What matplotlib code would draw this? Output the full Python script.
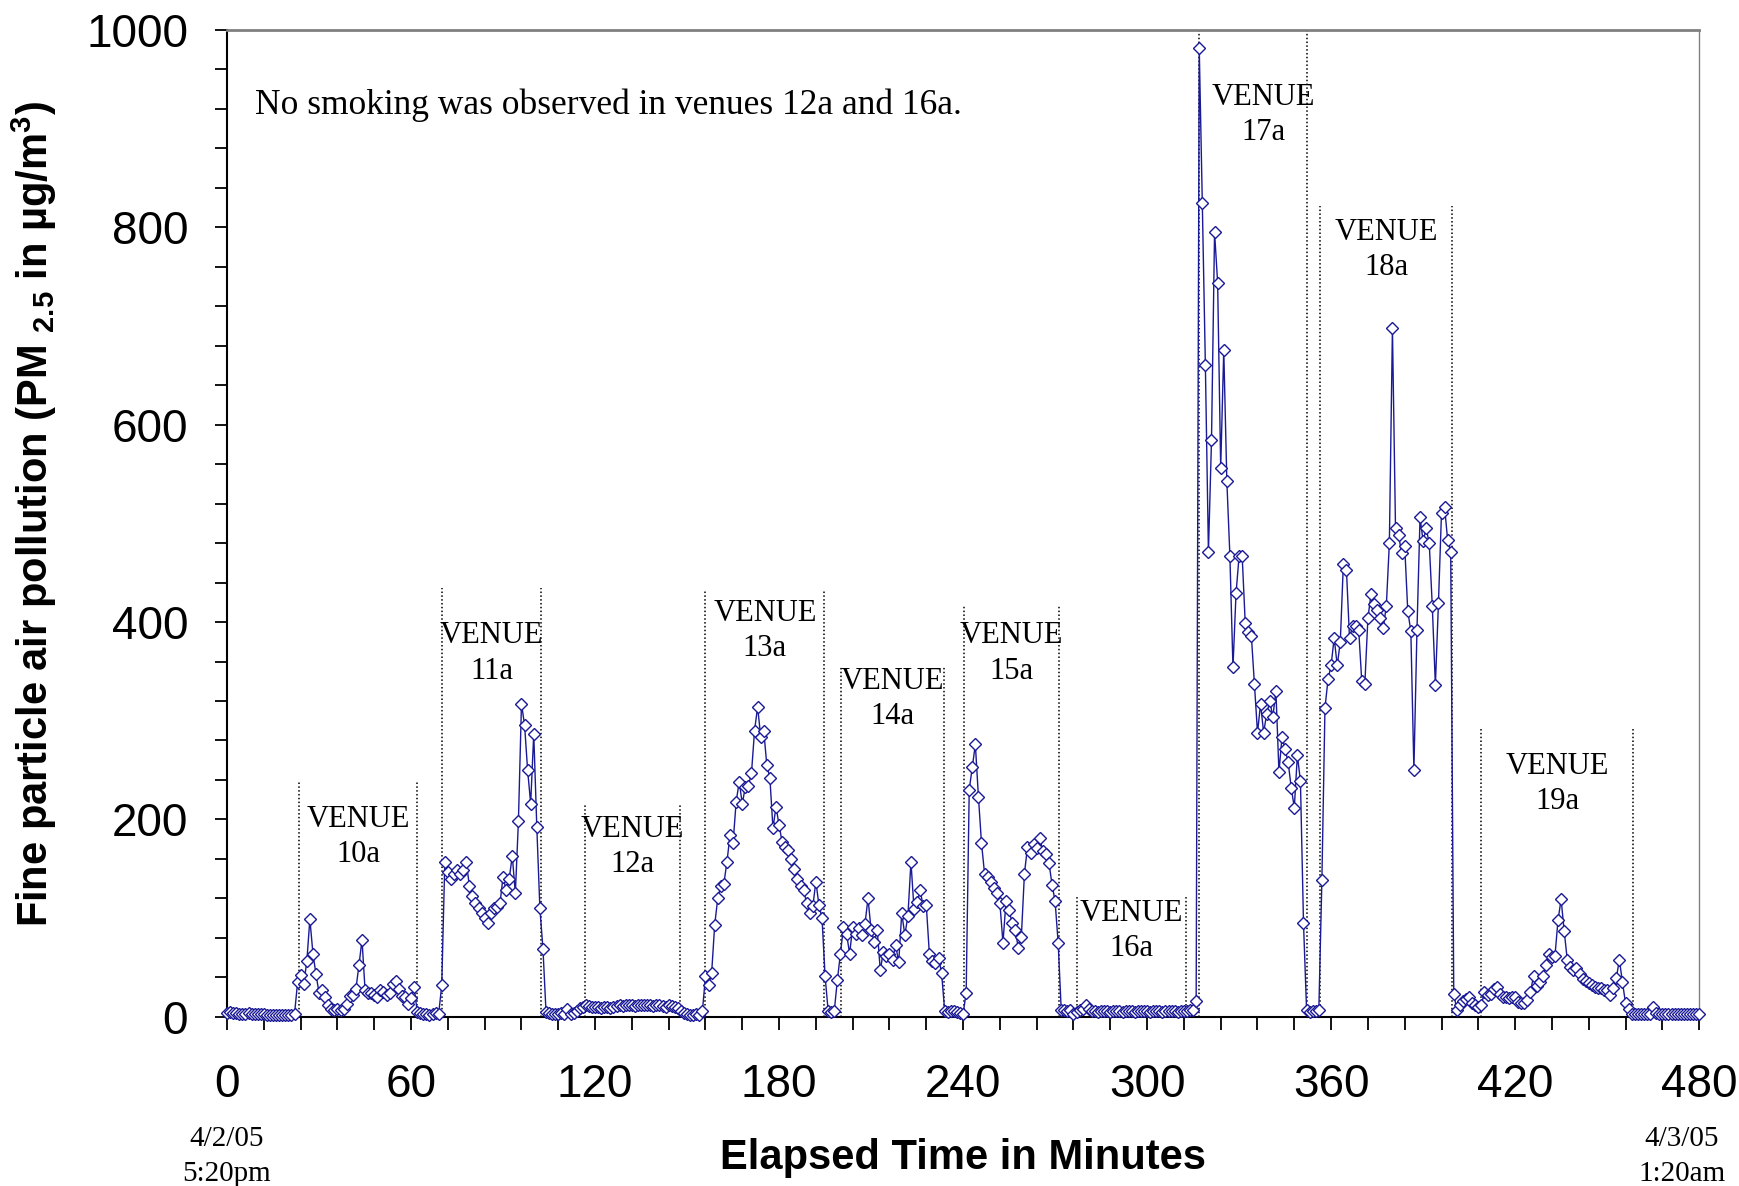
import numpy as np
import matplotlib.pyplot as plt
from matplotlib.ticker import MultipleLocator

plt.rcParams['font.family'] = ['Liberation Sans', 'DejaVu Sans']
plt.rcParams['mathtext.fontset'] = 'custom'
plt.rcParams['mathtext.rm'] = 'Liberation Sans:bold'
plt.rcParams['mathtext.bf'] = 'Liberation Sans:bold'
plt.rcParams['mathtext.default'] = 'bf'

# PM2.5 readings (ug/m3), one per minute, split by stretch of the evening
before_10a = [4, 5, 4, 4, 3, 3, 3, 4, 3, 3, 3, 3, 3, 2, 2, 2, 2, 2, 2, 2, 2, 2, 3]
venue_10a = [35, 42, 33, 56, 99, 64, 43, 24, 27, 20, 12, 8, 7, 8, 7, 8, 13, 21, 22, 28,
             52, 78, 27, 24, 24, 22, 20, 27, 25, 22, 24, 33, 36, 28, 21, 20, 13, 19, 30, 5]
walk_10_11 = [4, 3, 3, 2, 3, 4, 3]
venue_11a = [32, 157, 147, 140, 145, 149, 145, 149, 157, 133, 122, 115, 110, 105, 100, 95, 105, 110,
             111, 115, 142, 128, 140, 163, 125, 198, 317, 296, 250, 216, 287, 192, 110, 69, 5]
walk_11_12 = [4, 3, 3, 3, 4, 3, 8, 3, 4, 6, 9, 10]
venue_12a = [12, 11, 10, 10, 10, 9, 10, 10, 9, 10, 11, 12, 11, 12, 12, 12, 11, 12, 12, 12,
             12, 12, 11, 12, 12, 11, 10, 12, 11, 10, 9]
walk_12_13 = [6, 4, 3, 2, 2, 3, 2, 6]
venue_13a = [41, 32, 44, 93, 120, 133, 135, 157, 184, 176, 218, 238, 216, 233, 234, 247, 290, 314, 284, 290,
             255, 242, 191, 213, 194, 177, 172, 169, 160, 150, 140, 133, 128, 115, 105, 112, 137, 113, 100, 41]
walk_13_14 = [6, 5, 6]
venue_14a = [37, 64, 91, 84, 64, 91, 84, 90, 83, 94, 120, 88, 76, 88, 47, 66, 62, 64, 58, 73,
             55, 105, 83, 102, 157, 109, 116, 128, 112, 113, 64, 57, 54, 60, 44]
walk_14_15 = [6, 5, 6, 6, 5, 4, 3]
venue_15a = [24, 230, 253, 276, 223, 176, 145, 142, 137, 130, 125, 115, 75, 117, 108, 95, 88, 70, 81, 145,
             172, 166, 175, 171, 181, 168, 165, 156, 134, 117, 75, 7]
venue_16a = [7, 6, 7, 3, 5, 7, 8, 12, 8, 6, 6, 5, 6, 6, 6, 5, 6, 6, 6, 5, 6, 6,
             6, 5, 6, 6, 6, 6, 5, 6, 6, 6, 5, 6, 6, 6, 6, 5, 6, 6, 6, 7, 7, 16]
venue_17a = [982, 825, 661, 471, 584, 795, 744, 556, 676, 543, 467, 354, 429, 467, 467, 399, 390, 386,
             337, 288, 317, 288, 307, 320, 304, 330, 248, 284, 271, 258, 232, 212, 265, 239, 95]
walk_17_18 = [7, 5, 6, 6, 7]
venue_18a = [139, 313, 342, 356, 384, 356, 380, 459, 453, 384, 396, 396, 392, 340, 337, 404, 428, 418,
             412, 404, 394, 416, 480, 698, 495, 488, 470, 477, 411, 391, 250, 392, 506, 482, 495, 480,
             416, 336, 419, 511, 517, 483, 471]
walk_18_19 = [23, 7, 12, 16, 18, 20, 14, 12, 10, 12, 25, 22, 23, 28, 30, 23, 20, 20, 19, 20]
venue_19a = [20, 15, 14, 14, 17, 25, 41, 31, 35, 41, 52, 64, 61, 62, 98, 119, 87, 58, 50, 47,
             49, 43, 38, 36, 34, 32, 30, 29, 29, 27, 27, 22, 29, 39, 58, 35, 14, 8, 3]
after_19a = [3, 3, 3, 3, 3, 3, 10, 4, 3, 3, 3, 3, 3, 3, 3, 3, 3, 3, 3, 3, 3, 3]

pm25 = np.array(before_10a + venue_10a + walk_10_11 + venue_11a + walk_11_12 + venue_12a
                + walk_12_13 + venue_13a + walk_13_14 + venue_14a + walk_14_15 + venue_15a
                + venue_16a + venue_17a + walk_17_18 + venue_18a + walk_18_19 + venue_19a
                + after_19a)
minutes = np.arange(len(pm25))

# venue visits: entry/exit minute and height of the divider lines
venue_names = ["10a", "11a", "12a", "13a", "14a", "15a", "16a", "17a", "18a", "19a"]
venue_start = [23.4, 70.1, 116.6, 156, 200.1, 240.2, 277, 317, 356.5, 409]
venue_end = [62, 102.5, 147.7, 194.7, 233.8, 271.4, 312.7, 352, 399.5, 458.4]
venue_line_top = [238, 435, 215, 432, 354, 417, 122, 1000, 822, 293]
venue_label_y = [200, 386, 190, 409, 340, 386, 105, 932, 795, 254]

fig = plt.figure(figsize=(17.4, 11.86), dpi=100)
ax = fig.add_axes([0.1305, 0.1427, 0.846, 0.832])

ax.plot(minutes, pm25, color='#1a1a96', lw=1.0, marker='D', markersize=6,
        markerfacecolor='white', markeredgecolor='#1a1a96', markeredgewidth=1.0,
        clip_on=False, zorder=3)

serif = ['Liberation Serif', 'DejaVu Serif']
label_shift = {"17a": 3.5}  # 17a label sits a little right of centre
for name, x0, x1, top, ly in zip(venue_names, venue_start, venue_end, venue_line_top, venue_label_y):
    for xv in (x0, x1):
        ax.plot([xv, xv], [0, top], color='black', ls=(0, (1, 1.5)), lw=1.1, zorder=2)
    xm = (x0 + x1) / 2 + label_shift.get(name, 0)
    ax.text(xm, ly, "VENUE", ha='center', va='center', fontsize=22, family=serif)
    ax.text(xm, ly - 36, name, ha='center', va='center', fontsize=22, family=serif)

ax.text(0.019, 0.924, "No smoking was observed in venues 12a and 16a.",
        transform=ax.transAxes, ha='left', va='center', fontsize=25.5, family=serif)

ax.set_xlim(0, 480)
ax.set_ylim(0, 1000)
ax.xaxis.set_major_locator(MultipleLocator(60))
ax.xaxis.set_minor_locator(MultipleLocator(12))
ax.yaxis.set_major_locator(MultipleLocator(200))
ax.yaxis.set_minor_locator(MultipleLocator(40))
ax.tick_params(which='both', direction='out', length=9, width=1.3, color='black')
ax.tick_params(axis='x', which='major', labelsize=33, pad=24)
ax.tick_params(axis='y', which='major', labelsize=33, pad=19)

for side in ('left', 'bottom'):
    ax.spines[side].set_color('black')
    ax.spines[side].set_linewidth(1.5)
ax.spines['top'].set_color('#808080')
ax.spines['top'].set_linewidth(2)
ax.spines['right'].set_color('#808080')
ax.spines['right'].set_linewidth(1)

ax.set_xlabel("Elapsed Time in Minutes", fontsize=30, fontweight='bold')
ax.xaxis.set_label_coords(0.5, -0.123)
ax.set_ylabel(r"Fine particle air pollution (PM $_{2.5}$ in µg/m$^{3}$)",
              fontsize=30, fontweight='bold')
ax.yaxis.set_label_coords(-0.114, 0.51)

fig.text(227 / 1740, 1 - 1139 / 1186, "4/2/05", ha='center', va='center', fontsize=21, family=serif)
fig.text(227 / 1740, 1 - 1174 / 1186, "5:20pm", ha='center', va='center', fontsize=21, family=serif)
fig.text(1682 / 1740, 1 - 1139 / 1186, "4/3/05", ha='center', va='center', fontsize=21, family=serif)
fig.text(1682 / 1740, 1 - 1174 / 1186, "1:20am", ha='center', va='center', fontsize=21, family=serif)

fig.savefig("out.png", dpi=100)
